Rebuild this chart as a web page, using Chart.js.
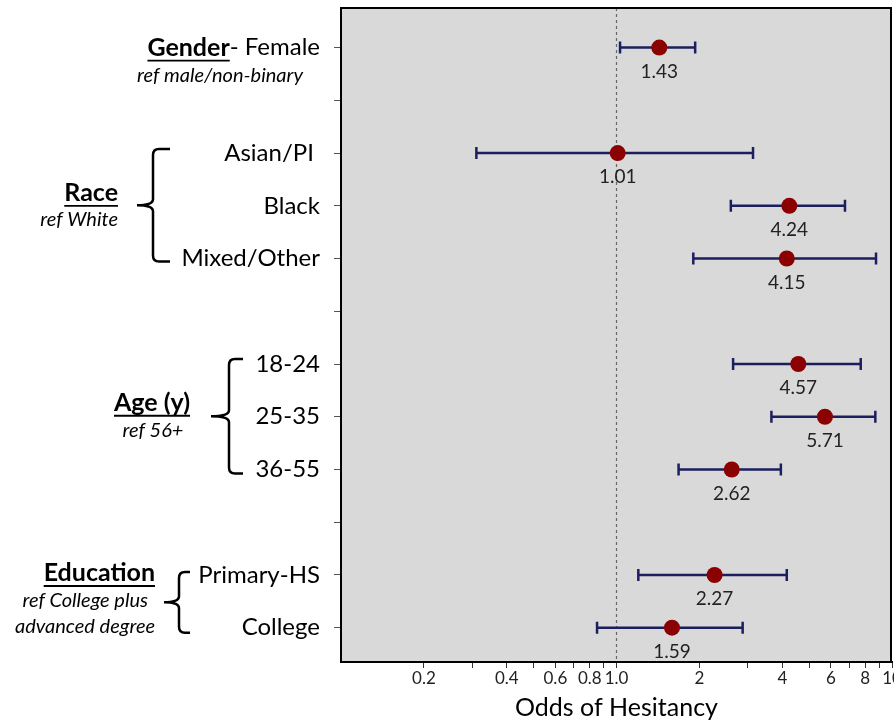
<!DOCTYPE html>
<html>
<head>
<meta charset="utf-8">
<script src="https://cdn.jsdelivr.net/npm/chart.js@4.4.1/dist/chart.umd.min.js"></script>
<style>
  html, body { margin: 0; padding: 0; background: #fff; }
  #wrap { width: 894px; height: 723px; }
</style>
</head>
<body>
<div id="wrap"><canvas id="forest"></canvas></div>
<script>
// rows of the plot, top to bottom (blank rows are spacers between groups)
const rowLabels = ['- Female', '', 'Asian/PI ', 'Black', 'Mixed/Other', '', '18-24', '25-35', '36-55', '', 'Primary-HS', 'College'];

// one entry per estimate
const rowIndex = [0, 2, 3, 4, 6, 7, 8, 10, 11];
const oddsRatio = [1.43, 1.01, 4.24, 4.15, 4.57, 5.71, 2.62, 2.27, 1.59];
const ciLow = [1.03, 0.31, 2.6, 1.9, 2.65, 3.65, 1.68, 1.2, 0.85];
const ciHigh = [1.93, 3.13, 6.75, 8.75, 7.7, 8.7, 3.95, 4.15, 2.87];

const xTickValues = [0.2, 0.3, 0.4, 0.5, 0.6, 0.7, 0.8, 0.9, 1, 2, 3, 4, 5, 6, 7, 8, 9, 10];
const xTickLabels = { 0.2: '0.2', 0.4: '0.4', 0.6: '0.6', 0.8: '0.8', 1: '1.0', 2: '2', 4: '4', 6: '6', 8: '8', 10: '10' };

const FONT = 'Lato';
const NAVY = '#1c1f5e';
const DOT = '#8b0000';

function underlined(ctx, text, x, y, align) {
  ctx.textAlign = align;
  ctx.fillText(text, x, y);
  const w = ctx.measureText(text).width;
  const x0 = align === 'right' ? x - w : align === 'center' ? x - w / 2 : x;
  ctx.save();
  ctx.lineWidth = 1.8;
  ctx.strokeStyle = '#000';
  ctx.beginPath();
  ctx.moveTo(x0, y + 13);
  ctx.lineTo(x0 + w, y + 13);
  ctx.stroke();
  ctx.restore();
}

function brace(ctx, x, top, bot, hook, tip) {
  const mid = (top + bot) / 2, r = 6;
  ctx.beginPath();
  ctx.moveTo(x + hook, top);
  ctx.lineTo(x + r, top);
  ctx.quadraticCurveTo(x, top, x, top + r);
  ctx.lineTo(x, mid - r);
  ctx.quadraticCurveTo(x, mid, x - tip, mid);
  ctx.quadraticCurveTo(x, mid, x, mid + r);
  ctx.lineTo(x, bot - r);
  ctx.quadraticCurveTo(x, bot, x + r, bot);
  ctx.lineTo(x + hook, bot);
  ctx.stroke();
}

// the "10" label is allowed to run off the right edge, as in the original
const noPadding = () => ({ left: 0, right: 0, top: 0, bottom: 0 });

const forestPlugin = {
  id: 'forest',
  beforeDraw(chart) {
    const { ctx, chartArea: a } = chart;
    ctx.save();
    ctx.fillStyle = '#d9d9d9';
    ctx.fillRect(a.left, a.top, a.right - a.left, a.bottom - a.top);
    ctx.restore();
  },
  beforeDatasetsDraw(chart) {
    const { ctx, chartArea: a, scales: { x, y } } = chart;
    ctx.save();
    // reference line at OR = 1
    ctx.strokeStyle = '#666';
    ctx.lineWidth = 1.2;
    ctx.setLineDash([3, 3]);
    const x1 = x.getPixelForValue(1);
    ctx.beginPath();
    ctx.moveTo(x1, a.top);
    ctx.lineTo(x1, a.bottom);
    ctx.stroke();
    ctx.setLineDash([]);
    // confidence intervals
    ctx.strokeStyle = NAVY;
    ctx.lineWidth = 2.5;
    rowIndex.forEach((r, i) => {
      const py = y.getPixelForValue(r);
      const lo = x.getPixelForValue(ciLow[i]);
      const hi = x.getPixelForValue(ciHigh[i]);
      ctx.beginPath();
      ctx.moveTo(lo, py); ctx.lineTo(hi, py);
      ctx.moveTo(lo, py - 6); ctx.lineTo(lo, py + 6);
      ctx.moveTo(hi, py - 6); ctx.lineTo(hi, py + 6);
      ctx.stroke();
    });
    ctx.restore();
  },
  afterDatasetsDraw(chart) {
    const { ctx, scales: { x, y } } = chart;
    ctx.save();
    ctx.font = `19px ${FONT}`;
    ctx.fillStyle = '#222';
    ctx.textAlign = 'center';
    ctx.textBaseline = 'middle';
    rowIndex.forEach((r, i) => {
      ctx.fillText(oddsRatio[i].toFixed(2), x.getPixelForValue(oddsRatio[i]), y.getPixelForValue(r) + 24);
    });
    ctx.restore();
  },
  afterDraw(chart) {
    const { ctx, chartArea: a, scales: { y } } = chart;
    const yp = v => y.getPixelForValue(v);
    ctx.save();
    // frame top/right
    ctx.strokeStyle = '#000';
    ctx.lineWidth = 2;
    ctx.beginPath();
    ctx.moveTo(a.left, a.top); ctx.lineTo(a.right - 1, a.top); ctx.lineTo(a.right - 1, a.bottom);
    ctx.stroke();

    ctx.fillStyle = '#000';
    ctx.textBaseline = 'middle';

    // Gender prefix before the "- Female" tick label
    ctx.font = `24px ${FONT}`;
    const labelRight = y.right - 7 - 14;
    const femW = ctx.measureText(rowLabels[0]).width;
    ctx.font = `bold 25px ${FONT}`;
    underlined(ctx, 'Gender', labelRight - femW, yp(0), 'right');
    ctx.font = `italic 20px ${FONT}`;
    ctx.textAlign = 'center';
    ctx.fillText('ref male/non-binary', 220, yp(0) + 28);

    // Race
    ctx.font = `bold 25px ${FONT}`;
    underlined(ctx, 'Race', 118, yp(3) - 13, 'right');
    ctx.font = `italic 20px ${FONT}`;
    ctx.textAlign = 'right';
    ctx.fillText('ref White', 118, yp(3) + 14);

    // Age
    ctx.font = `bold 25px ${FONT}`;
    underlined(ctx, 'Age (y)', 152, yp(7) - 14, 'center');
    ctx.font = `italic 20px ${FONT}`;
    ctx.textAlign = 'center';
    ctx.fillText('ref 56+', 153, yp(7) + 14);

    // Education
    ctx.font = `bold 25px ${FONT}`;
    underlined(ctx, 'Education', 155, yp(10) - 2, 'right');
    ctx.font = `italic 20px ${FONT}`;
    ctx.textAlign = 'right';
    ctx.fillText('ref College plus', 148, yp(10) + 26);
    ctx.fillText('advanced degree', 155, yp(11) - 1);

    // braces
    ctx.lineWidth = 2.5;
    brace(ctx, 153, yp(2) - 4, yp(4) + 3, 17, 16);
    brace(ctx, 229, yp(6) - 5, yp(8) + 4, 14, 18);
    brace(ctx, 179, yp(10) - 3, yp(11) + 5, 11, 15);
    ctx.restore();
  }
};

new Chart(document.getElementById('forest'), {
  type: 'scatter',
  data: {
    datasets: [{
      data: rowIndex.map((r, i) => ({ x: oddsRatio[i], y: r })),
      pointRadius: 8,
      pointHoverRadius: 8,
      backgroundColor: DOT,
      borderWidth: 0
    }]
  },
  options: {
    responsive: true,
    maintainAspectRatio: false,
    animation: false,
    layout: { autoPadding: false, padding: { top: 8, right: 2, bottom: 0, left: 0 } },
    plugins: { legend: { display: false }, tooltip: { enabled: false } },
    scales: {
      x: {
        type: 'logarithmic',
        position: 'bottom',
        min: 0.1,
        max: 10,
        border: { color: '#000', width: 2 },
        grid: { drawOnChartArea: false, drawTicks: true, tickLength: 6, color: '#333' },
        afterBuildTicks: s => { s.ticks = xTickValues.map(v => ({ value: v })); },
        afterFit: s => { s.height = 61; s.paddingLeft = 0; s.paddingRight = 0; s.getPadding = noPadding; },
        ticks: {
          autoSkip: false,
          maxRotation: 0,
          padding: 0,
          color: '#222',
          font: { family: FONT, size: 17 },
          callback: v => xTickLabels[v] || ''
        },
        title: {
          display: true,
          text: 'Odds of Hesitancy',
          color: '#000',
          font: { family: FONT, size: 25 },
          padding: { top: 10, bottom: 0 }
        }
      },
      y: {
        type: 'linear',
        reverse: true,
        min: -0.75,
        max: 11.65,
        border: { color: '#000', width: 2 },
        grid: { drawOnChartArea: false, drawTicks: true, tickLength: 7, color: '#555' },
        afterBuildTicks: s => { s.ticks = rowLabels.map((_, i) => ({ value: i })); },
        afterFit: s => { s.width = 341; s.paddingTop = 0; s.paddingBottom = 0; s.getPadding = noPadding; },
        ticks: {
          autoSkip: false,
          padding: 14,
          color: '#000',
          font: { family: FONT, size: 24 },
          callback: v => rowLabels[v]
        }
      }
    }
  },
  plugins: [forestPlugin]
});
</script>
</body>
</html>
